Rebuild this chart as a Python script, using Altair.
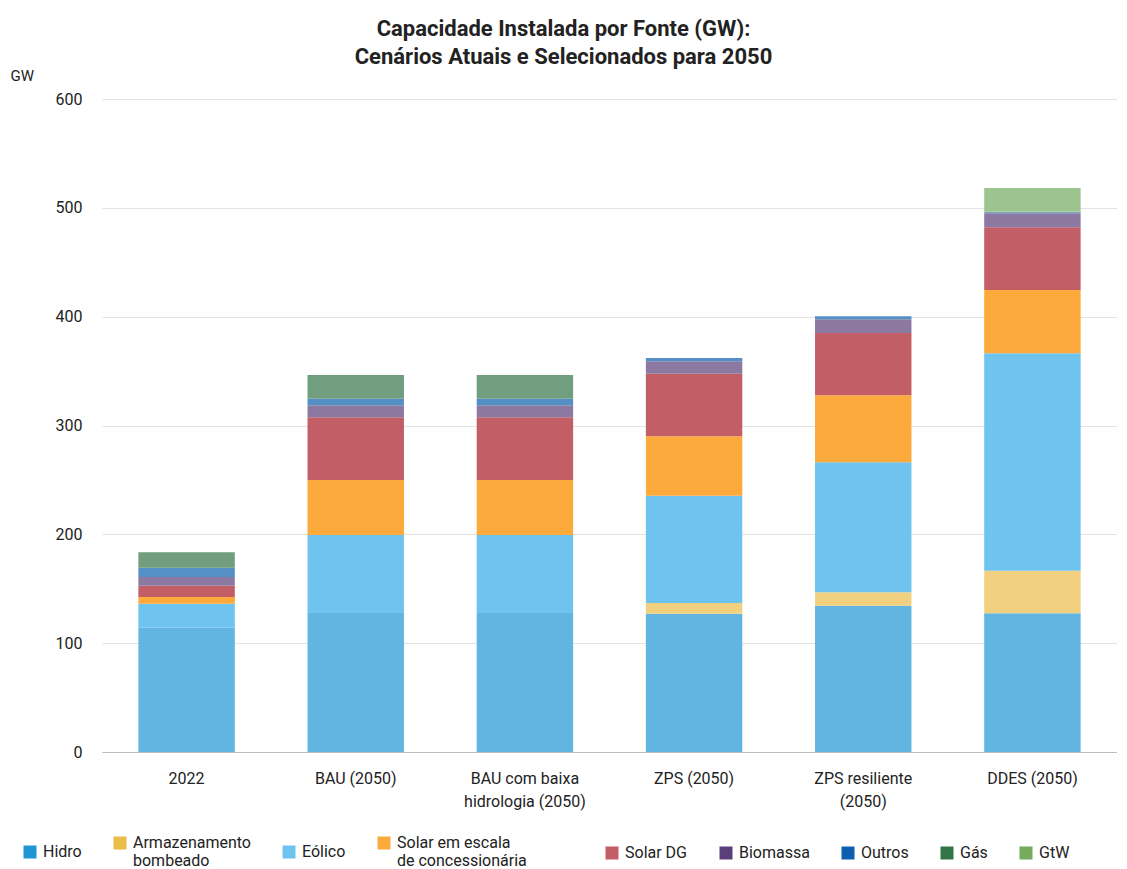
import altair as alt
import pandas as pd

categories = ["2022", "BAU (2050)", "BAU com baixa\nhidrologia (2050)", "ZPS (2050)",
              "ZPS resiliente\n(2050)", "DDES (2050)"]
sources = ["Hidro", "Armazenamento\nbombeado", "Eólico", "Solar em escala\nde concessionária",
           "Solar DG", "Biomassa", "Outros", "Gás", "GtW"]

hidro = [114.2, 127.7, 127.7, 127.1, 134.4, 127.4]
armazenamento = [0, 0, 0, 9.8, 12.3, 39.2]
eolico = [22.1, 71.7, 71.7, 98.6, 119.5, 199.7]
solar_escala = [6.1, 50.5, 50.5, 54.6, 61.6, 58.2]
solar_dg = [10.4, 57.6, 57.6, 57.5, 57.2, 57.6]
biomassa = [8.0, 11.1, 11.1, 11.4, 12.6, 12.9]
outros = [8.5, 6.0, 6.0, 3.0, 2.7, 1.0]
gas = [14.2, 21.8, 21.8, 0, 0, 0.5]
gtw = [0, 0, 0, 0, 0, 21.8]

legend_colors = ["#1f96d3", "#ebbd48", "#6ec4ee", "#fbaa3b", "#c15e66", "#5b3f7a", "#0b5fae", "#347548", "#74ab5d"]
bar_colors = ["#62b5e0", "#f1d17f", "#6ec4ee", "#fbaa3b", "#c15e66", "#8c79a2", "#548fc6", "#719e7f", "#9dc48e"]

series = [hidro, armazenamento, eolico, solar_escala, solar_dg, biomassa, outros, gas, gtw]
rows = []
for si, (src, vals) in enumerate(zip(sources, series)):
    for cat, v in zip(categories, vals):
        if v > 0:
            rows.append({"cat": cat, "source": src, "value": v, "idx": si})
df = pd.DataFrame(rows)

FONT = "Roboto"
TXT = "#222222"

bars = alt.Chart(df).mark_bar().encode(
    x=alt.X("cat:N", sort=categories,
            scale=alt.Scale(paddingInner=0.43, paddingOuter=0.215),
            axis=alt.Axis(title=None, labelAngle=0, ticks=False, domainColor="#bdbdbd",
                          labelExpr="split(datum.label, '\\n')", labelFontSize=16,
                          labelPadding=18, labelLineHeight=23, labelColor=TXT, labelFont=FONT)),
    y=alt.Y("value:Q", stack="zero", scale=alt.Scale(domain=[0, 600]),
            axis=alt.Axis(values=[0, 100, 200, 300, 400, 500, 600], title="GW", titleAngle=0,
                          titleAlign="left", titleBaseline="middle", titleX=-92, titleY=-24,
                          titleFontSize=15, titleFontWeight="normal", titleColor=TXT, titleFont=FONT,
                          domain=False, ticks=False, gridColor="#e3e3e3", labelFontSize=16,
                          labelPadding=20, labelColor=TXT, labelFont=FONT)),
    color=alt.Color("source:N", sort=sources, scale=alt.Scale(domain=sources, range=bar_colors),
                    legend=None),
    order=alt.Order("idx:Q"),
)


def legend_part(names, cols, lx, ly):
    return alt.Chart(pd.DataFrame({"source": names})).mark_square(opacity=0).encode(
        x=alt.value(0), y=alt.value(0),
        color=alt.Color("source:N", sort=names, scale=alt.Scale(domain=names, range=cols),
                        legend=alt.Legend(title=None, orient="none", legendX=lx, legendY=ly,
                                          direction="horizontal", columns=len(names), columnPadding=30,
                                          symbolType="square", symbolSize=169, symbolOpacity=1,
                                          symbolStrokeWidth=0, labelFontSize=16, labelColor=TXT,
                                          labelFont=FONT, labelLimit=400, labelOffset=5,
                                          labelExpr="split(datum.label, '\\n')")),
    )


legend_a = legend_part(sources[:4], legend_colors[:4], -80, 736)
legend_b = legend_part(sources[4:], legend_colors[4:], 502, 746)

chart = alt.layer(bars, legend_a, legend_b).resolve_scale(color="independent").properties(
    width=1015, height=653,
    title=alt.TitleParams(["Capacidade Instalada por Fonte (GW):",
                           "Cenários Atuais e Selecionados para 2050"],
                          fontSize=22, fontWeight="bold", font=FONT, color=TXT,
                          anchor="middle", frame="bounds", lineHeight=28, offset=-1),
    padding={"left": 2, "top": 10, "right": 0, "bottom": 5},
).configure_view(stroke=None)

chart.save("out.html", embed_options={"renderer": "svg", "actions": False})
